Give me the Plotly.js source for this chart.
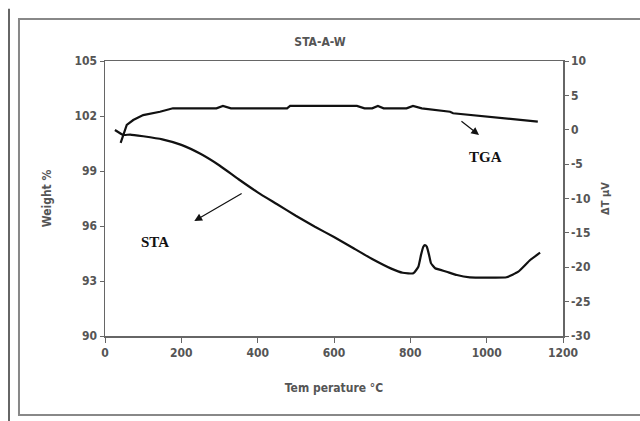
<!DOCTYPE html>
<html>
<head>
<meta charset="utf-8">
<script src="https://cdn.plot.ly/plotly-3.0.1.min.js"></script>
<style>html,body{margin:0;padding:0;background:#fff;}#chart{width:640px;height:421px;}</style>
</head>
<body>
<div id="chart"></div>
<script>
// TGA (upper curve, left axis, Weight %)
const tgaTemp = [41, 57, 74, 100, 144, 178, 292, 309, 330, 406, 477, 485, 660, 680, 700, 715, 730, 790, 807, 830, 904, 912, 960, 1035, 1080, 1134];
const tgaWeight = [100.54, 101.51, 101.78, 102.05, 102.23, 102.42, 102.42, 102.55, 102.42, 102.42, 102.42, 102.55, 102.55, 102.42, 102.42, 102.55, 102.42, 102.42, 102.55, 102.42, 102.23, 102.15, 102.05, 101.87, 101.8, 101.69];
// STA (lower curve, right axis, ΔT µV)
const staTemp = [26, 48, 66, 100, 150, 200, 250, 300, 350, 400, 450, 500, 550, 600, 650, 700, 750, 780, 808, 821, 828, 834, 838, 843, 849, 854, 865, 895, 922, 956, 1000, 1052, 1083, 1114, 1140];
const staDT = [-0.04, -0.76, -0.7, -0.95, -1.4, -2.2, -3.5, -5.2, -7.2, -9.1, -10.8, -12.5, -14.1, -15.6, -17.2, -18.8, -20.2, -20.8, -20.88, -19.92, -18.2, -17.01, -16.76, -17.01, -18.2, -19.4, -20.15, -20.65, -21.13, -21.46, -21.5, -21.46, -20.65, -18.95, -17.88];
const leftTicks = [90, 93, 96, 99, 102, 105];
const rightTicks = [-30, -25, -20, -15, -10, -5, 0, 5, 10];
const rightTickText = ['-30', '-25', '-20', '-15', '-10', '-5', '0', '5', '10'];
const xTicks = [0, 200, 400, 600, 800, 1000, 1200];

const fam = 'DejaVu Sans Condensed, Liberation Sans Narrow, Arial Narrow, sans-serif';
const txtCol = '#555';
const tf = {family: fam, size: 12, color: txtCol, weight: 'bold'};
const bold = s => '<b>' + s + '</b>';

const traces = [
  {x: tgaTemp, y: tgaWeight, mode: 'lines', line: {color: '#111', width: 2.2}, yaxis: 'y', showlegend: false, hoverinfo: 'skip'},
  {x: staTemp, y: staDT, mode: 'lines', line: {color: '#111', width: 2.2, shape: 'spline', smoothing: 0.4}, yaxis: 'y2', showlegend: false, hoverinfo: 'skip'}
];

const layout = {
  width: 640, height: 421,
  margin: {l: 105, r: 77, t: 61, b: 85},
  paper_bgcolor: '#fff', plot_bgcolor: '#fff',
  font: {family: fam, size: 12, color: txtCol},
  title: {text: bold('STA-A-W'), x: 0.5, xanchor: 'center', y: 0.9, yanchor: 'middle', yref: 'container',
          font: {family: fam, size: 12, color: txtCol}},
  xaxis: {range: [0, 1200], tickvals: xTicks, ticktext: xTicks.map(v => bold(String(v))), showgrid: false, zeroline: false,
          showline: true, linecolor: '#666', linewidth: 1.5, mirror: true, ticks: 'outside', ticklen: 5, tickcolor: '#666',
          tickfont: tf,
          title: {text: bold('Tem perature °C'), standoff: 24, font: {family: fam, size: 12, color: txtCol}}},
  yaxis: {range: [90, 105], tickvals: leftTicks, ticktext: leftTicks.map(v => bold(String(v))), showgrid: false, zeroline: false,
          showline: true, linecolor: '#666', linewidth: 1.5, ticks: 'outside', ticklen: 4, tickcolor: '#666',
          tickfont: tf,
          title: {text: bold('Weight %'), standoff: 20, font: {family: fam, size: 12, color: txtCol}}},
  yaxis2: {range: [-30, 10], tickvals: rightTicks, ticktext: rightTickText.map(bold), overlaying: 'y', side: 'right', showgrid: false, zeroline: false,
           showline: true, linecolor: '#666', linewidth: 1.5, ticks: 'outside', ticklen: 4, tickcolor: '#666',
           tickfont: tf,
           title: {text: bold('ΔT µV'), standoff: 12, font: {family: fam, size: 11, color: txtCol}}},
  shapes: [
    {type: 'rect', xref: 'paper', yref: 'paper', x0: -0.1878, x1: 1.3, y0: -0.287, y1: 1.1527,
     line: {color: '#888', width: 2}, layer: 'below'},
    {type: 'line', xref: 'paper', yref: 'paper', x0: -0.2096, x1: -0.2096, y0: -0.31, y1: 1.19,
     line: {color: '#333', width: 1.5}}
  ],
  annotations: [
    {xref: 'x', yref: 'y', x: 234, y: 96.27, axref: 'x', ayref: 'y', ax: 362, ay: 97.82, showarrow: true,
     arrowhead: 2, arrowsize: 1.3, arrowwidth: 1.2, arrowcolor: '#111', text: ''},
    {xref: 'x', yref: 'y', x: 131, y: 95.13, text: '<b>STA</b>', showarrow: false,
     font: {family: 'Liberation Serif, Times New Roman, serif', size: 15, color: '#111'}},
    {xref: 'x', yref: 'y', x: 980, y: 100.96, axref: 'x', ayref: 'y', ax: 930, ay: 101.78, showarrow: true,
     arrowhead: 2, arrowsize: 1.3, arrowwidth: 1.2, arrowcolor: '#111', text: ''},
    {xref: 'x', yref: 'y', x: 996, y: 99.76, text: '<b>TGA</b>', showarrow: false,
     font: {family: 'Liberation Serif, Times New Roman, serif', size: 15, color: '#111'}}
  ]
};

Plotly.newPlot('chart', traces, layout, {displayModeBar: false, staticPlot: true});
</script>
</body>
</html>
